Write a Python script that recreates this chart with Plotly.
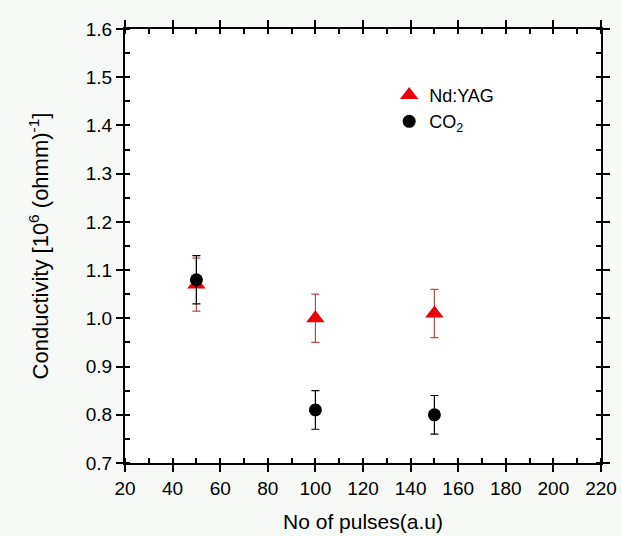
import plotly.graph_objects as go

pulses = [50, 100, 150]
ndyag = [1.07, 1.00, 1.01]
ndyag_err = [0.055, 0.05, 0.05]
co2 = [1.08, 0.81, 0.80]
co2_err = [0.05, 0.04, 0.04]

font = "Liberation Sans, Arial, sans-serif"

fig = go.Figure()
fig.add_trace(go.Scatter(
    x=pulses, y=ndyag, mode="markers", name="Nd:YAG",
    marker=dict(symbol="triangle-up", size=16, color="#e8000b"),
    error_y=dict(type="data", array=ndyag_err, color="#b84a4a", thickness=1.2, width=4),
))
fig.add_trace(go.Scatter(
    x=pulses, y=co2, mode="markers", name="CO<sub>2</sub>",
    marker=dict(symbol="circle", size=13, color="black"),
    error_y=dict(type="data", array=co2_err, color="black", thickness=1.2, width=4),
))

axis_common = dict(
    showline=True, linecolor="black", linewidth=2, mirror="ticks",
    ticks="outside", ticklen=7, tickwidth=1.5, tickcolor="black",
    showgrid=False, zeroline=False, automargin=False,
    tickfont=dict(family=font, size=19, color="black"),
)

fig.update_xaxes(
    range=[20, 220], tick0=20, dtick=20,
    minor=dict(dtick=10, ticks="inside", ticklen=5, tickwidth=1.5, tickcolor="black"),
    title=dict(text="No of pulses(a.u)", font=dict(family=font, size=21, color="black"), standoff=17),
    **axis_common,
)
fig.update_yaxes(
    range=[0.7, 1.6], tick0=0.7, dtick=0.1, tickformat=".1f",
    minor=dict(dtick=0.05, ticks="inside", ticklen=5, tickwidth=1.5, tickcolor="black"),
    title=dict(text="Conductivity [10<sup>6</sup> (ohmm)<sup>-1</sup>]", font=dict(family=font, size=22, color="black"), standoff=31),
    **axis_common,
)

fig.update_layout(
    width=622, height=536,
    margin=dict(l=125, r=21, t=29, b=73),
    paper_bgcolor="#f7f9f6", plot_bgcolor="white",
    showlegend=True,
    legend=dict(x=0.555, y=0.89, xanchor="left", yanchor="top", bgcolor="rgba(0,0,0,0)",
                font=dict(family=font, size=18, color="black"), tracegroupgap=2),
)

fig.write_html("out.html")
